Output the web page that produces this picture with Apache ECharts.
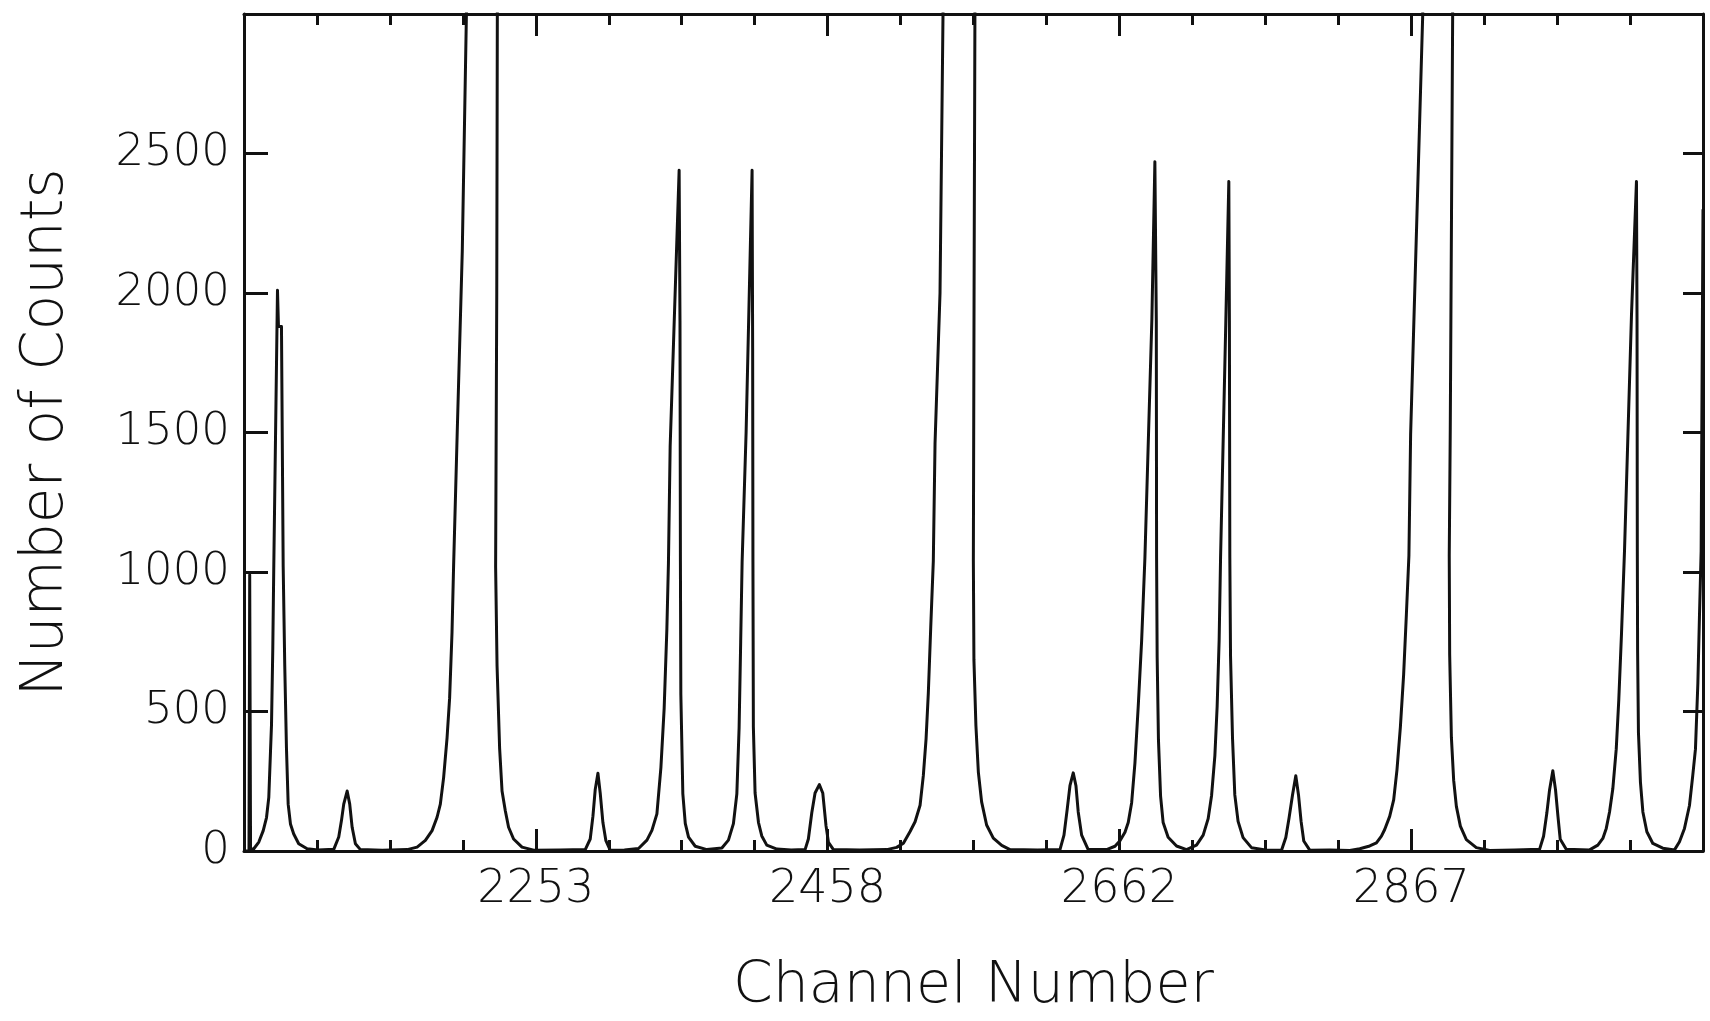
<!DOCTYPE html>
<html>
<head>
<meta charset="utf-8">
<title>Channel spectrum</title>
<script src="https://cdn.jsdelivr.net/npm/echarts@6/dist/echarts.min.js"></script>
<style>
  html, body { margin: 0; padding: 0; background: #fff; }
  #chart { width: 1710px; height: 1021px; }
</style>
</head>
<body>
<div id="chart"></div>
<script>
// values: channel / counts, one line per peak
const channel = [
  2048, 2051.5, 2052, 2052.6,
  2054.9, 2058.4, 2061.5, 2063.8, 2065.4, 2066.6, 2067.3, 2068.2, 2068.9, 2071.5, 2072.2, 2074.3, 2075.5, 2076.6, 2077.8, 2079.0, 2080.6, 2082.9, 2086.4, 2092.3, 2100,
  2111.0, 2114.5, 2116.4, 2118.0, 2120.4, 2122.2, 2123.9, 2126.2, 2129.7, 2145,
  2162.5, 2169.5, 2175.3, 2180.0, 2183.5, 2185.8, 2188.1, 2190.5, 2192.3, 2194.0, 2195.1, 2197.7, 2201.2, 2204.1, 2215.3, 2225.8, 2225.4, 2224.6, 2225.6, 2227.4, 2229.1, 2231.4, 2233.7, 2237.2, 2243.1, 2251.3, 2270,
  2287.5, 2291.0, 2292.9, 2294.5, 2296.4, 2298.0, 2299.9, 2302.0, 2305.0, 2315,
  2324.9, 2330.8, 2334.3, 2337.8, 2340.6, 2342.9, 2344.8, 2345.9, 2347.1, 2353.4, 2354.0, 2354.3, 2354.6, 2356.0, 2357.7, 2360.0, 2364.7, 2372.9,
  2383.4, 2388.0, 2391.5, 2393.9, 2395.5, 2396.6, 2397.6, 2400.4, 2404.6, 2405.0, 2405.2, 2405.5, 2406.7, 2409.1, 2411.4, 2414.9, 2422.0, 2432,
  2441.8, 2444.1, 2446.5, 2448.8, 2451.8, 2454.2, 2456.5, 2458.2, 2461.7, 2480,
  2499.1, 2506.1, 2510.8, 2515.5, 2519.0, 2522.5, 2524.8, 2526.7, 2528.3, 2530.0, 2531.8, 2533.0, 2536.5, 2538.6, 2549.8, 2561.0, 2560.4, 2559.9, 2560.3, 2561.7, 2563.4, 2565.7, 2569.2, 2573.9, 2579.8, 2585.6, 2605,
  2620.7, 2623.5, 2625.8, 2627.7, 2630.0, 2631.9, 2633.5, 2635.9, 2640.5,
  2653.4, 2659.3, 2662.8, 2666.3, 2668.6, 2671.0, 2673.3, 2675.6, 2678.0, 2680.3, 2685.2, 2687.3, 2688.3, 2688.5, 2688.9, 2689.8, 2691.3, 2693.1, 2696.6, 2702.5,
  2709.5, 2716.5, 2721.2, 2724.7, 2727.1, 2729.4, 2731.0, 2732.4, 2733.4, 2737.1, 2739.2, 2739.6, 2739.9, 2740.4, 2741.8, 2743.4, 2745.7, 2749.2, 2755.1, 2765,
  2776.2, 2779.2, 2781.5, 2783.9, 2786.2, 2788.1, 2789.9, 2791.8, 2796.0, 2810,
  2824.1, 2831.1, 2838.1, 2842.8, 2846.3, 2848.6, 2852.1, 2854.9, 2857.2, 2859.6, 2861.9, 2863.8, 2865.6, 2866.8, 2875.3, 2885.8, 2896.3, 2894.6, 2893.9, 2894.2, 2895.4, 2897.0, 2898.9, 2901.7, 2905.9, 2912.9, 2922.3, 2940,
  2957.3, 2960.1, 2962.4, 2964.3, 2966.6, 2968.5, 2970.2, 2971.8, 2976.0,
  2992.4, 2998.2, 3001.7, 3004.1, 3006.4, 3008.7, 3011.1, 3012.9, 3014.8, 3016.9, 3021.8, 3025.3, 3025.7, 3025.9, 3026.1, 3026.7, 3028.1, 3029.8, 3032.6, 3036.8, 3043.8, 3052.0,
  3055.5, 3059.0, 3062.5, 3064.8, 3066.7, 3068.4, 3069.5, 3070.7, 3072
]
const counts = [
  0, 0, 990, 6,
  8, 32, 73, 120, 192, 357, 452, 724, 1020, 2010, 1880, 1880, 1020, 665, 369, 168, 97, 61, 26, 8, 4,
  6, 50, 109, 168, 215, 168, 85, 26, 5, 3,
  5, 14, 38, 73, 121, 168, 263, 405, 547, 784, 1020, 1510, 2150, 3000, 9000, 3000, 2000, 1020, 665, 369, 215, 144, 85, 43, 14, 3, 4,
  5, 43, 125, 220, 279, 208, 102, 37, 3, 4,
  9, 39, 74, 133, 299, 512, 797, 1033, 1450, 2440, 1900, 1033, 561, 205, 99, 50, 17, 5,
  11, 39, 98, 205, 443, 750, 1035, 1500, 2440, 1800, 1035, 445, 208, 102, 54, 21, 7, 4,
  5, 43, 137, 208, 238, 208, 90, 31, 5, 4,
  5, 13, 28, 70, 105, 164, 271, 401, 567, 804, 1040, 1460, 2000, 3000, 9000, 3000, 2000, 1040, 685, 449, 283, 176, 93, 46, 20, 5, 4,
  5, 57, 151, 234, 280, 234, 140, 57, 5,
  5, 17, 37, 67, 102, 173, 315, 517, 753, 1050, 1907, 2470, 1900, 1050, 695, 400, 197, 102, 49, 18,
  5, 21, 57, 116, 199, 341, 518, 755, 1051, 1900, 2400, 1900, 1054, 698, 403, 201, 106, 48, 12, 4,
  3, 48, 119, 201, 270, 201, 107, 36, 3, 4,
  2, 8, 18, 29, 53, 77, 124, 183, 290, 444, 633, 846, 1059, 1495, 3000, 9000, 3000, 1500, 1059, 704, 408, 254, 160, 89, 41, 12, 2, 4,
  6, 53, 136, 219, 288, 219, 124, 42, 6,
  4, 21, 45, 81, 140, 223, 365, 542, 779, 1075, 1920, 2400, 1900, 1075, 720, 424, 246, 140, 69, 27, 10, 4,
  33, 81, 163, 270, 365, 602, 838, 1075, 2300
]

const xMin = 2048
const xMax = 3072
const xStep = 204.8
const yMin = 0
const yMax = 3000
const yStep = 500

const ink = '#111'
const font = "'DejaVu Sans', sans-serif"

const chart = echarts.init(document.getElementById('chart'), null, { renderer: 'canvas' })

const frameLine = { show: true, onZero: false, lineStyle: { color: ink, width: 3 } }

function xAxisBase(position) {
  return {
    type: 'value',
    position: position,
    min: xMin,
    max: xMax,
    interval: xStep,
    axisLine: frameLine,
    axisTick: { show: true, inside: true, length: 22, lineStyle: { color: ink, width: 3 } },
    minorTick: { show: true, splitNumber: 4, length: 11, lineStyle: { color: ink, width: 3 } },
    splitLine: { show: false },
    minorSplitLine: { show: false }
  }
}

function yAxisBase(position, tickLen) {
  return {
    type: 'value',
    position: position,
    min: yMin,
    max: yMax,
    interval: yStep,
    axisLine: frameLine,
    axisTick: { show: true, inside: true, length: tickLen, lineStyle: { color: ink, width: 3 } },
    splitLine: { show: false }
  }
}

chart.setOption({
  animation: false,
  backgroundColor: '#fff',
  grid: { left: 244, right: 7, top: 14, bottom: 160, containLabel: false },
  xAxis: [
    Object.assign(xAxisBase('bottom'), {
      name: 'Channel Number',
      nameLocation: 'middle',
      nameGap: 108,
      nameTextStyle: { color: ink, fontSize: 57, fontWeight: 200, fontFamily: font },
      axisLabel: {
        show: true,
        showMinLabel: false,
        showMaxLabel: false,
        margin: 16,
        color: ink,
        fontSize: 46,
        fontWeight: 200,
        fontFamily: font,
        formatter: (v) => String(Math.round(v))
      }
    }),
    Object.assign(xAxisBase('top'), { axisLabel: { show: false } })
  ],
  yAxis: [
    Object.assign(yAxisBase('left', 24), {
      name: 'Number of Counts',
      nameLocation: 'middle',
      nameRotate: 90,
      nameGap: 168,
      nameTextStyle: { color: ink, fontSize: 58, fontWeight: 200, fontFamily: font },
      axisLabel: {
        show: true,
        showMaxLabel: false,
        margin: 14,
        color: ink,
        fontSize: 45,
        fontWeight: 200,
        fontFamily: font,
        formatter: (v) => String(v)
      }
    }),
    Object.assign(yAxisBase('right', 20), { axisLabel: { show: false } })
  ],
  series: [
    {
      type: 'line',
      xAxisIndex: 0,
      yAxisIndex: 0,
      symbol: 'none',
      clip: true,
      lineStyle: { color: ink, width: 3, join: 'round' },
      data: channel.map((c, i) => [c, counts[i]])
    }
  ]
})

window.addEventListener('resize', () => chart.resize())
</script>
</body>
</html>
